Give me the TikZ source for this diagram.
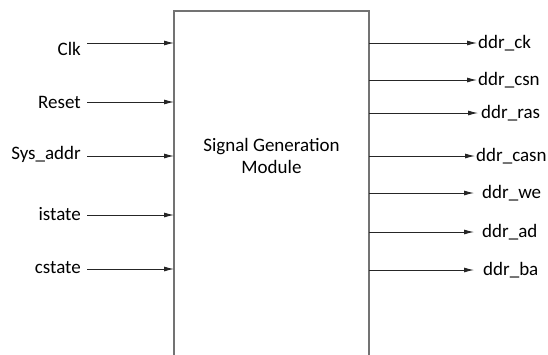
\documentclass[tikz,border=0pt]{standalone}
\usepackage{fontspec}
\setmainfont{Carlito}
\usetikzlibrary{arrows.meta, positioning}

\begin{document}
\begin{tikzpicture}[
    x=1pt, y=-1pt,
    every node/.style={font=\fontsize{19}{22}\selectfont},
    modbox/.style={draw=gray!90!black, line width=1.2pt, minimum width=195pt, minimum height=420pt, inner sep=0pt, outer sep=0pt},
    inlabel/.style={anchor=base east, inner sep=0pt},
    outlabel/.style={anchor=base west, inner sep=0pt},
    sig/.style={-{Latex[length=10pt,width=5pt]}, line width=0.9pt, color=black!85},
]
\clip (0,0) rectangle (548,354);

% Module
\node[modbox, anchor=north west] (sgm) at (174,11) {};
\node[align=center] (title) at (271.5,156) {Signal Generation\\Module};

% Inputs
\foreach \n/\t/\y/\b in {clk/Clk/43/55, reset/Reset/102/108.5, sysaddr/Sys\_addr/156/159, istate/istate/215/220, cstate/cstate/269/273} {
    \node[inlabel] (\n) at (81,\b) {\t};
    \coordinate (\n-in) at (87,\y);
    \draw[sig] (\n-in) -- (\n-in -| sgm.west);
}

% Outputs
\foreach \n/\t/\y/\tip/\lx in {ck/ddr\_ck/43/477/478, csn/ddr\_csn/80/477/478, ras/ddr\_ras/113/478/481, casn/ddr\_casn/156/475/476, we/ddr\_we/193/474/482, ad/ddr\_ad/232/474/482, ba/ddr\_ba/270/474/483} {
    \coordinate (\n-out) at (\tip,\y);
    \draw[sig] (\n-out -| sgm.east) -- (\n-out);
    \node[outlabel] (\n) at (\lx,\y+5.5) {\t};
}

\end{tikzpicture}
\end{document}
